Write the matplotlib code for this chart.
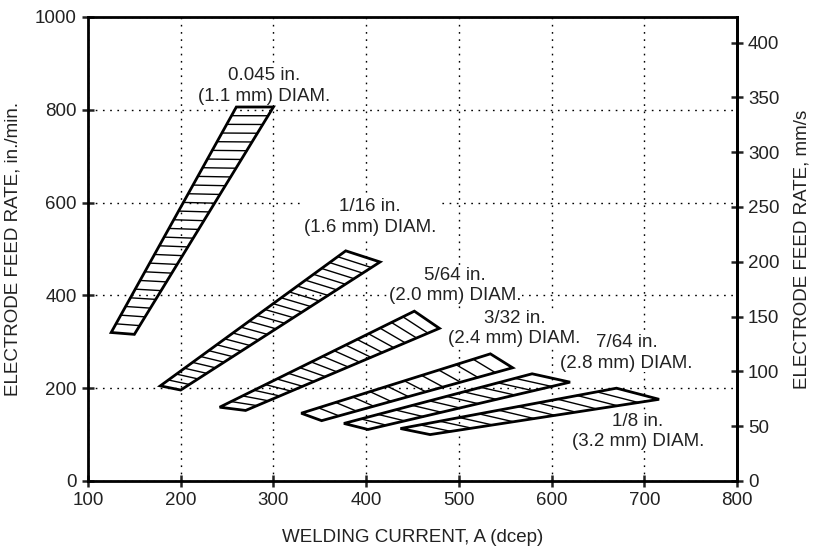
import numpy as np
import matplotlib.pyplot as plt
from matplotlib.patches import Polygon

plt.rcParams['font.family'] = ['Liberation Sans', 'DejaVu Sans']
plt.rcParams['font.size'] = 13.5

# band corners: (current A, feed rate in./min), order: low-left, low-right, high-right, high-left
wire_labels = ["0.045 in.\n(1.1 mm) DIAM.", "1/16 in.\n(1.6 mm) DIAM.", "5/64 in.\n(2.0 mm) DIAM.",
               "3/32 in.\n(2.4 mm) DIAM.", "7/64 in.\n(2.8 mm) DIAM.", "1/8 in.\n(3.2 mm) DIAM."]
band_current = [[125, 150, 300, 260],
                [178, 200, 415, 378],
                [242, 270, 479, 452],
                [330, 352, 558, 534],
                [376, 402, 620, 579],
                [437, 469, 716, 670]]
band_feed = [[320, 316, 806, 806],
             [205, 196, 472, 496],
             [159, 152, 329, 366],
             [146, 130, 244, 274],
             [124, 111, 213, 231],
             [113, 100, 176, 200]]
hatch_count = [26, 23, 17, 11, 11, 11]
label_x = [290, 404, 496, 560, 681, 693]
label_y = [851, 569, 422, 328, 276, 106]

fig = plt.figure(figsize=(8.14, 5.48), dpi=100)
ax = fig.add_axes([0.1081, 0.1223, 0.7973, 0.8467])

for cx, cy, n in zip(band_current, band_feed, hatch_count):
    pts = np.column_stack([cx, cy])
    # hatch lines run parallel to the short ends of each band
    for t in np.linspace(0, 1, n + 1)[1:-1]:
        a = pts[0] + t * (pts[3] - pts[0])
        b = pts[1] + t * (pts[2] - pts[1])
        ax.plot([a[0], b[0]], [a[1], b[1]], color='black', lw=1.0, zorder=3)
    ax.add_patch(Polygon(pts, closed=True, fill=False, edgecolor='black',
                         lw=2.0, joinstyle='miter', zorder=4))

# labels sit above the grid but beneath the bands; earlier labels on top
for i, (lx, ly, txt) in enumerate(zip(label_x, label_y, wire_labels)):
    ax.text(lx, ly, txt, ha='center', va='center', linespacing=1.25,
            color='#222222', zorder=2.5 - i * 0.05,
            bbox=dict(facecolor='white', edgecolor='none', pad=0.5))

ax.set_xlim(100, 800)
ax.set_ylim(0, 1000)
ax.set_xticks(range(100, 801, 100))
ax.set_yticks(range(0, 1001, 200))
ax.grid(True, color='black', linestyle=(0, (1.2, 4)), lw=1.0)
ax.set_axisbelow(True)
for s in ax.spines.values():
    s.set_linewidth(2.0)
ax.tick_params(direction='inout', length=9, width=1.8, colors='#222222', labelsize=13.5)
ax.set_xlabel("WELDING CURRENT, A (dcep)", color='#222222', labelpad=14)
ax.set_ylabel("ELECTRODE FEED RATE, in./min.", color='#222222', labelpad=10)

sec = ax.secondary_yaxis('right', functions=(lambda v: v * 25.4 / 60, lambda v: v * 60 / 25.4))
sec.set_yticks(range(0, 401, 50))
sec.spines['right'].set_linewidth(2.0)
sec.tick_params(direction='inout', length=9, width=1.8, colors='#222222', labelsize=13.5)
sec.set_ylabel("ELECTRODE FEED RATE, mm/s", color='#222222', labelpad=10)

fig.savefig('out.png', dpi=100)
